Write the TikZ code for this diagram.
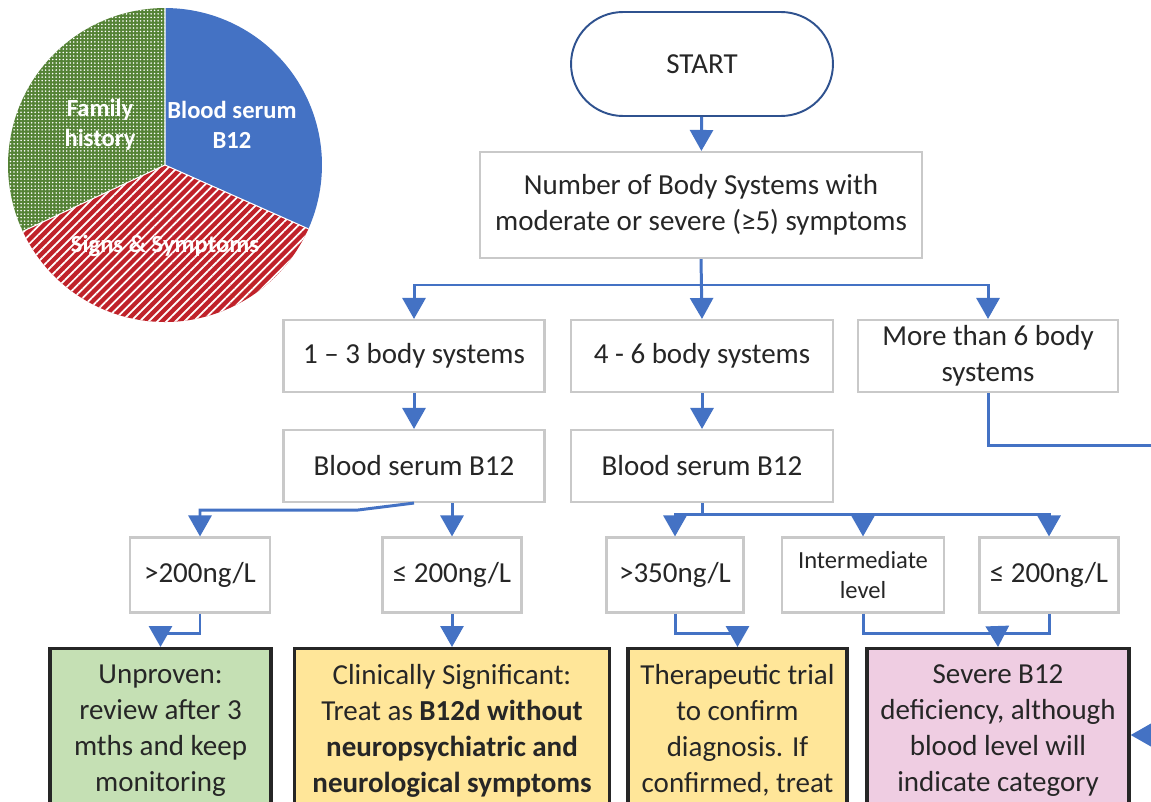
\documentclass[tikz,border=0pt]{standalone}
\usepackage{fontspec}
\setmainfont{Carlito}
\usetikzlibrary{arrows.meta, patterns.meta, positioning, calc}

\definecolor{flowblue}{HTML}{4472C4}
\definecolor{startblue}{HTML}{2F528F}
\definecolor{boxgray}{HTML}{C9C9C9}
\definecolor{txtgray}{HTML}{262626}
\definecolor{piered}{HTML}{C0222A}
\definecolor{piegreen}{HTML}{548235}
\definecolor{unproven}{HTML}{C5E0B4}
\definecolor{significant}{HTML}{FFE699}
\definecolor{severe}{HTML}{EFCDE2}

\tikzset{
  stepbox/.style={draw=boxgray, line width=1.2pt, fill=white, text=txtgray, align=center,
    font=\fontsize{16.5}{20.5}\selectfont, inner sep=0pt},
  levelbox/.style={stepbox, font=\fontsize{14}{17}\selectfont},
  outcome/.style={draw=black!85, line width=1.9pt, text=txtgray, align=center, anchor=north,
    font=\fontsize{16.5}{20.5}\selectfont, inner xsep=0pt, inner ysep=0.32cm, text depth=3cm},
  link/.style={draw=flowblue, line width=1.7pt},
  flow/.style={link, -{Triangle[length=0.42cm,width=0.46cm]}},
  pielabel/.style={text=white, font=\fontsize{14}{17}\selectfont\bfseries, align=center}
}

\begin{document}
\begin{tikzpicture}[x=0.02cm, y=-0.02cm]
			\clip (0,0) rectangle (1151,801);
			\fill[white] (0,0) rectangle (1151,801);

			\begin{scope}[shift={(165,165)}]
				\fill[flowblue] (0,0) -- (90:3.14cm) arc[start angle=90, end angle=-24, radius=3.14cm] -- cycle;
				\fill[piered] (0,0) -- (-24:3.14cm) arc[start angle=-24, end angle=-155, radius=3.14cm] -- cycle;
				\fill[pattern={Lines[angle=45,distance=3.6pt,line width=1pt]}, pattern color=white]
					(0,0) -- (-24:3.14cm) arc[start angle=-24, end angle=-155, radius=3.14cm] -- cycle;
				\fill[piegreen] (0,0) -- (205:3.14cm) arc[start angle=205, end angle=90, radius=3.14cm] -- cycle;
				\fill[pattern={Dots[distance=2pt,radius=0.5pt]}, pattern color=white]
					(0,0) -- (205:3.14cm) arc[start angle=205, end angle=90, radius=3.14cm] -- cycle;
				\draw[white, line width=0.6pt] (90:3.14cm) -- (0,0) -- (-24:3.14cm) (0,0) -- (205:3.14cm);
			\end{scope}
			\node[pielabel] (family) at (100,125) {Family\\history};
			\node[pielabel] (serum) at (232,125) {Blood serum\\B12};
			\node[pielabel] (signs) at (165,246) {Signs \& Symptoms};

			\node[stepbox, draw=startblue, line width=1.1pt, rounded corners=1.04cm,
				minimum width=5.24cm, minimum height=2.08cm] (start) at (702,64) {START};
			\node[stepbox, minimum width=8.84cm, minimum height=2.12cm] (count) at (701,205)
				{Number of Body Systems with\\moderate or severe (≥5) symptoms};

			\node[stepbox, minimum width=5.22cm, minimum height=1.44cm] (few) at (414,356) {1 – 3 body systems};
			\node[stepbox, minimum width=5.24cm, minimum height=1.44cm] (some) at (702,356) {4 - 6 body systems};
			\node[stepbox, minimum width=5.2cm, minimum height=1.44cm] (many) at (988,356) {More than 6 body\\systems};

			\node[stepbox, minimum width=5.22cm, minimum height=1.44cm] (serumA) at (414,466) {Blood serum B12};
			\node[stepbox, minimum width=5.24cm, minimum height=1.44cm] (serumB) at (702,466) {Blood serum B12};

			\node[stepbox, minimum width=2.8cm, minimum height=1.5cm] (highA) at (200,575) {>200ng/L};
			\node[stepbox, minimum width=2.78cm, minimum height=1.5cm] (lowA) at (452,575) {≤ 200ng/L};
			\node[stepbox, minimum width=2.74cm, minimum height=1.5cm] (highB) at (675,575) {>350ng/L};
			\node[levelbox, minimum width=3.24cm, minimum height=1.5cm] (midB) at (863,575) {Intermediate\\level};
			\node[stepbox, minimum width=2.78cm, minimum height=1.5cm] (lowB) at (1049,575) {≤ 200ng/L};

			\node[outcome, fill=unproven, minimum width=4.42cm] (unproven) at (160.5,647)
				{Unproven:\\review after 3\\mths and keep\\monitoring};
			\node[outcome, fill=significant, minimum width=6.3cm] (clinical) at (452,647)
				{Clinically Significant:\\Treat as \textbf{B12d without}\\\textbf{neuropsychiatric and}\\\textbf{neurological symptoms}};
			\node[outcome, fill=significant, minimum width=4.38cm] (trial) at (737.5,647)
				{Therapeutic trial\\to confirm\\diagnosis. If\\confirmed, treat};
			\node[outcome, fill=severe, minimum width=5.24cm] (severe) at (998,647)
				{Severe B12\\deficiency, although\\blood level will\\indicate category};

			\coordinate (split) at (702,285);
			\coordinate (bendA) at (358,510);
			\coordinate (splitB) at (702,514);
			\coordinate (merge) at (997.5,632);
			\coordinate (edgeA) at (1160,445);
			\coordinate (edgeB) at (1160,735);

			\draw[flow] (start) -- (count);
			\draw[flow] (count.south) -- (some.north);
			\draw[flow] (split) -| (few.north);
			\draw[flow] (split) -| (many.north);
			\draw[flow] (few) -- (serumA);
			\draw[flow] (some) -- (serumB);

			\draw[link] (many.south) |- (edgeA);
			\draw[flow] (edgeB) -- (severe.east |- edgeB);

			\draw[flow] (serumA.south) -- (bendA) -| (highA.north);
			\draw[flow] (serumA.south -| lowA.north) -- (lowA.north);
			\draw[link] (serumB.south) -- (splitB);
			\draw[flow] (splitB) -| (highB.north);
			\draw[flow] (splitB) -| (midB.north);
			\draw[flow] (splitB) -| (lowB.north);

			\draw[flow] (highA.south) -- ++(0,20) -| (unproven.north);
			\draw[flow] (lowA) -- (clinical);
			\draw[flow] (highB.south) -- ++(0,20) -| (trial.north);
			\draw[link] (midB.south) -- ++(0,20) -| (lowB.south);
			\draw[flow] (merge) -- (severe.north);
		\end{tikzpicture}
\end{document}
